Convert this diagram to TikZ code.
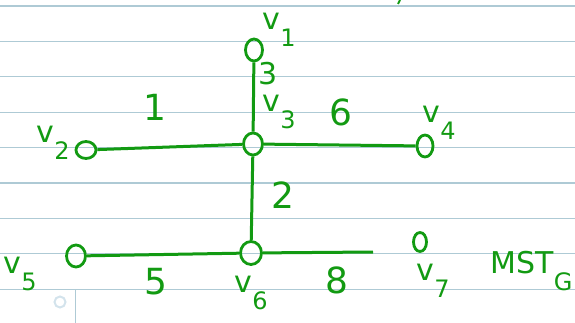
\documentclass[tikz,border=0pt]{standalone}
\usepackage{fontspec}
\setmainfont{DejaVu Sans}
\usetikzlibrary{positioning,calc,shapes.geometric}
\definecolor{ink}{HTML}{129A12}
\definecolor{rule}{HTML}{AECAD5}
\definecolor{faint}{HTML}{D3E3EC}
\newcommand\vsub[2]{#1\kern0.5pt\raisebox{-0.55em}{\fontsize{24}{24}\selectfont #2}}
\tikzset{
  vert/.style={draw=ink,line width=2.8pt,ellipse,inner sep=0pt},
  edge/.style={draw=ink,line width=3pt},
  lbl/.style={text=ink,inner sep=0pt,font=\fontsize{30}{30}\selectfont},
  wt/.style={text=ink,inner sep=0pt,font=\fontsize{36}{36}\selectfont}
}
\begin{document}
\begin{tikzpicture}[x=1pt,y=-1pt]
  \useasboundingbox (0,0) rectangle (575,323);
  % ruled page
  \foreach \y in {6,41.4,76.8,112.2,147.6,183,218.4,253.8,289.2}{
    \draw[rule,line width=1.3pt] (0,\y) -- (575,\y);
  }
  \draw[rule,line width=1pt] (75,289.2) -- (75,323);
  \draw[faint,line width=2pt] (60,302) circle (5.5);
  \draw[ink,line width=2pt] (400,0) -- (398,4);
  % vertices
  \node[vert,minimum width=17pt,minimum height=22pt] (v1) at (254,50) {};
  \node[vert,minimum width=19pt,minimum height=22pt] (v3) at (253,144) {};
  \node[vert,minimum width=20pt,minimum height=17pt] (v2) at (86,150) {};
  \node[vert,minimum width=16pt,minimum height=22pt] (v4) at (425,146) {};
  \node[vert,minimum width=19pt,minimum height=22pt] (v5) at (76,256) {};
  \node[vert,minimum width=21pt,minimum height=23pt] (v6) at (251,253) {};
  \node[vert,minimum width=13pt,minimum height=19pt] (v7) at (420,242) {};
  \coordinate (e8) at (373,252);
  % tree edges
  \draw[edge] (v1) -- (v3);
  \draw[edge] (v2) -- (v3);
  \draw[edge] (v3) -- (v4);
  \draw[edge] (v3) -- (v6);
  \draw[edge] (v5) -- (v6);
  \draw[edge] (v6) -- (e8);
  % weights
  \node[wt,font=\fontsize{30}{30}\selectfont] (w3) at (268,74) {3};
  \node[wt] (w1) at (155,107) {1};
  \node[wt] (w6) at (341,112) {6};
  \node[wt] (w2) at (283,195) {2};
  \node[wt] (w5) at (156,282) {5};
  \node[wt] (w8) at (337,280) {8};
  % names
  \node[lbl] (n1) at (279,30) {\vsub{v}{1}};
  \node[lbl] (n3) at (279,112) {\vsub{v}{3}};
  \node[lbl] (n2) at (53,143) {\vsub{v}{2}};
  \node[lbl] (n4) at (439,123) {\vsub{v}{4}};
  \node[lbl] (n5) at (20,274) {\vsub{v}{5}};
  \node[lbl] (n6) at (251,293) {\vsub{v}{6}};
  \node[lbl] (n7) at (433,281) {\vsub{v}{7}};
  \node[lbl,anchor=west] (mst) at (490,271) {\vsub{MST}{G}};
\end{tikzpicture}
\end{document}
